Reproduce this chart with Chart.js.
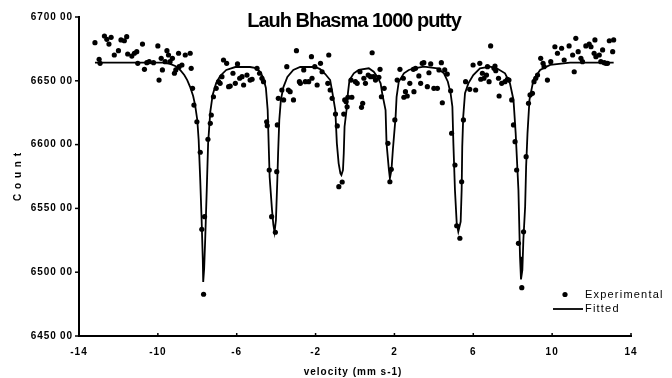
<!DOCTYPE html>
<html>
<head>
<meta charset="utf-8">
<title>Lauh Bhasma 1000 putty</title>
<script src="https://cdn.jsdelivr.net/npm/chart.js@4.4.0/dist/chart.umd.min.js"></script>
<style>
    html, body { margin: 0; padding: 0; background: #fff; }
    #wrap { width: 672px; height: 378px; }
</style>
</head>
<body>
<div id="wrap"><canvas id="spectrum" width="672" height="378"></canvas></div>
<script>
// Labels
const chartTitle = 'Lauh Bhasma 1000 putty';
const xTitle = 'velocity (mm s-1)';
const yTitle = 'C o u n t';
const legendLabels = ['Experimental', 'Fitted'];

// Axis ticks
const xTicks = [-14, -10, -6, -2, 2, 6, 10, 14];
const yTicks = [645000, 650000, 655000, 660000, 665000, 670000];

// Measured spectrum (velocity in mm/s, counts)
const expVel = [
    -13.19, -12.98, -12.93, -12.71, -12.59, -12.48, -12.37, -12.21, -12.00, -11.87,
    -11.70, -11.58, -11.53, -11.32, -11.19, -11.07, -11.02, -10.78, -10.68, -10.56,
    -10.44, -10.22, -10.00, -9.94, -9.83, -9.77, -9.63, -9.54, -9.46, -9.38,
    -9.26, -9.16, -9.09, -8.95, -8.92, -8.78, -8.61, -8.36, -8.31, -8.24,
    -8.17, -8.02, -7.85, -7.77, -7.68, -7.63, -7.46, -7.34, -7.29, -7.18,
    -7.04, -6.92, -6.84, -6.75, -6.67, -6.51, -6.41, -6.33, -6.19, -6.07,
    -5.96, -5.85, -5.73, -5.65, -5.48, -5.32, -5.22, -4.97, -4.84, -4.72,
    -4.64, -4.48, -4.45, -4.35, -4.23, -4.04, -3.97, -3.94, -3.89, -3.71,
    -3.62, -3.46, -3.38, -3.29, -3.12, -2.97, -2.82, -2.77, -2.60, -2.52,
    -2.35, -2.21, -2.18, -2.04, -1.92, -1.75, -1.67, -1.38, -1.33, -1.26,
    -1.16, -0.99, -0.90, -0.82, -0.65, -0.57, -0.52, -0.45, -0.40, -0.36,
    -0.20, -0.16, 0.02, 0.11, 0.25, 0.33, 0.39, 0.45, 0.53, 0.67,
    0.79, 0.87, 0.94, 1.04, 1.21, 1.27, 1.34, 1.48, 1.67, 1.77,
    1.84, 2.02, 2.14, 2.28, 2.45, 2.48, 2.56, 2.65, 2.78, 2.96,
    2.99, 3.07, 3.24, 3.33, 3.41, 3.49, 3.67, 3.75, 3.84, 4.00,
    4.18, 4.26, 4.38, 4.43, 4.55, 4.68, 4.85, 4.90, 5.07, 5.16,
    5.32, 5.41, 5.50, 5.61, 5.82, 5.99, 6.12, 6.33, 6.38, 6.46,
    6.54, 6.67, 6.72, 6.80, 6.88, 7.05, 7.10, 7.14, 7.28, 7.31,
    7.44, 7.61, 7.73, 7.81, 7.95, 8.04, 8.12, 8.20, 8.29, 8.46,
    8.55, 8.68, 8.80, 8.88, 9.00, 9.08, 9.17, 9.26, 9.42, 9.54,
    9.59, 9.76, 9.93, 10.14, 10.27, 10.48, 10.61, 10.86, 11.04, 11.12,
    11.20, 11.32, 11.46, 11.54, 11.71, 11.88, 11.97, 12.13, 12.17, 12.22,
    12.39, 12.47, 12.56, 12.64, 12.73, 12.81, 12.90, 13.07, 13.12
];
const expCount = [
    667990, 666690, 666370, 668510, 668250, 667880, 668410, 667020, 667360, 668200,
    668140, 668460, 667100, 666940, 667160, 667280, 666370, 667880, 665900, 666420,
    666500, 666420, 667730, 665060, 666760, 665850, 666500, 667360, 667020, 666500,
    666760, 665590, 665850, 667160, 666110, 666240, 667020, 667160, 665980, 664410,
    663100, 661790, 659400, 653360, 648270, 654350, 660420, 661670, 662320, 663750,
    664410, 664930, 664800, 665320, 666630, 666370, 664540, 664590, 665590, 664800,
    666320, 665200, 665320, 664670, 665450, 665060, 665120, 665980, 665590, 665200,
    664930, 661790, 661480, 658010, 654350, 653130, 657880, 661540, 663630, 664280,
    663500, 666110, 664280, 664150, 663500, 667360, 664930, 664800, 665850, 664930,
    664930, 666890, 665200, 666110, 664670, 666370, 665710, 664800, 667020, 664280,
    663630, 662390, 661460, 656700, 657070, 662390, 663500, 663360, 662960, 663710,
    665060, 663710, 664930, 664800, 665710, 662920, 663240, 665200, 664800, 665450,
    665320, 667200, 665320, 665060, 665270, 665900, 663750, 664410, 660100, 657090,
    658060, 661930, 665060, 665900, 665200, 663710, 664150, 663810, 664800, 665900,
    664150, 665980, 665380, 664800, 666370, 666420, 664540, 665630, 666320, 664410,
    664410, 665850, 666420, 663280, 665850, 665530, 664220, 660890, 658400, 653640,
    652660, 657090, 661930, 664930, 664330, 666240, 664280, 666370, 665120, 665590,
    665200, 665450, 666110, 664930, 667730, 665980, 666160, 665790, 665200, 663810,
    664800, 664930, 665120, 665060, 663500, 661540, 660230, 658010, 652260, 648790,
    653170, 659050, 663240, 663890, 664020, 664930, 665200, 665450, 666760, 666370,
    666110, 665060, 666500, 667670, 667160, 667550, 666630, 667730, 667020, 665710,
    668330, 667280, 666760, 666500, 667730, 667880, 667670, 667160, 668200, 666890,
    667020, 666500, 667420, 666420, 666370, 666370, 668140, 667280, 668200
];

// Fitted sextet
const fitVel = [
    -13.19, -9.75, -9.38, -9.12, -8.87, -8.66, -8.51, -8.36, -8.21, -8.11,
    -8.00, -7.93, -7.85, -7.78, -7.72, -7.70, -7.65, -7.60, -7.52, -7.45,
    -7.34, -7.22, -7.04, -6.84, -6.53, -6.07, -5.32, -5.01, -4.80, -4.65,
    -4.52, -4.43, -4.33, -4.21, -4.14, -4.08, -4.01, -3.94, -3.90, -3.84,
    -3.76, -3.63, -3.43, -3.13, -2.78, -2.02, -1.77, -1.51, -1.26, -1.14,
    -1.00, -0.92, -0.83, -0.74, -0.69, -0.61, -0.57, -0.53, -0.43, -0.36,
    -0.28, -0.06, 0.19, 0.70, 0.95, 1.13, 1.30, 1.38, 1.55, 1.60,
    1.72, 1.77, 1.85, 1.92, 2.06, 2.11, 2.22, 2.48, 2.73, 2.99,
    3.50, 4.18, 4.51, 4.71, 4.85, 4.94, 4.99, 5.07, 5.16, 5.24,
    5.36, 5.41, 5.44, 5.49, 5.58, 5.75, 6.00, 6.34, 6.85, 7.19,
    7.61, 7.86, 8.04, 8.15, 8.29, 8.37, 8.42, 8.49, 8.54, 8.63,
    8.68, 8.75, 8.85, 9.05, 9.39, 9.90, 10.91, 13.12
];
const fitCount = [
    666420, 666420, 666320, 666160, 665850, 665450, 665060, 664510, 663810, 663100,
    661930, 660360, 657230, 654090, 650960, 649230, 650330, 652520, 656440, 660130,
    662560, 663890, 664830, 665380, 665850, 666080, 666080, 666000, 665690, 665220,
    664440, 662710, 657460, 654880, 653700, 653150, 654090, 657230, 659340, 661930,
    663500, 664510, 665300, 665850, 666080, 666080, 665920, 665530, 665060, 664020,
    662710, 660100, 658530, 657750, 657620, 658010, 659320, 661400, 662710, 664020,
    665060, 665590, 665850, 665980, 665710, 665320, 664800, 664020, 662710, 660100,
    658010, 657360, 658010, 659580, 662190, 663750, 664930, 665590, 665850, 665980,
    666110, 665980, 665590, 664930, 664020, 662970, 660100, 656440, 653830, 653170,
    653960, 656440, 659840, 662190, 664020, 664800, 665450, 665980, 666110, 665980,
    665590, 664800, 663500, 660890, 656440, 651220, 649440, 650170, 652520, 655130,
    658270, 660890, 663500, 665060, 665850, 666240, 666420, 666420
];

const FONT = '"Liberation Sans", Arial, sans-serif';
const INK = '#000';
const DOT = 2.6;

const toPoints = (xs, ys) => xs.map((x, i) => ({ x: x, y: ys[i] }));

// Count labels are printed as e.g. "6700 00"
function formatCount(value) {
    const s = String(value);
    return s.slice(0, 4) + '\u2009' + s.slice(4);
}

// Titles, tick marks and the legend are drawn by hand
const decorations = {
    id: 'decorations',
    beforeDraw(chart) {
        chart.ctx.letterSpacing = '1px';
    },
    afterDraw(chart) {
        const { ctx, chartArea, scales } = chart;
        ctx.save();
        ctx.fillStyle = INK;
        ctx.strokeStyle = INK;

        // tick marks: x inward, y outward
        ctx.lineWidth = 1.5;
        xTicks.forEach(v => {
            const x = scales.x.getPixelForValue(v);
            ctx.beginPath();
            ctx.moveTo(x, chartArea.bottom);
            ctx.lineTo(x, chartArea.bottom - 3);
            ctx.stroke();
        });
        yTicks.forEach(v => {
            const y = scales.y.getPixelForValue(v);
            ctx.beginPath();
            ctx.moveTo(chartArea.left, y);
            ctx.lineTo(chartArea.left - 4, y);
            ctx.stroke();
        });

        // chart title
        ctx.letterSpacing = '-1px';
        ctx.font = 'bold 20px ' + FONT;
        ctx.textAlign = 'center';
        ctx.textBaseline = 'alphabetic';
        ctx.fillText(chartTitle, 354, 26.5);

        // axis titles
        ctx.letterSpacing = '1px';
        ctx.font = 'bold 10px ' + FONT;
        ctx.textBaseline = 'middle';
        ctx.fillText(xTitle, 353, 372.5);
        ctx.save();
        ctx.translate(18, (chartArea.top + chartArea.bottom) / 2);
        ctx.rotate(-Math.PI / 2);
        ctx.fillText(yTitle, 0, 0);
        ctx.restore();

        // legend
        ctx.font = '11px ' + FONT;
        ctx.letterSpacing = '1.2px';
        ctx.textAlign = 'left';
        ctx.beginPath();
        ctx.arc(565, 294.5, DOT, 0, Math.PI * 2);
        ctx.fill();
        ctx.fillText(legendLabels[0], 585, 295);
        ctx.lineWidth = 1.8;
        ctx.beginPath();
        ctx.moveTo(553, 309);
        ctx.lineTo(583, 309);
        ctx.stroke();
        ctx.fillText(legendLabels[1], 585, 309);

        ctx.restore();
    }
};

const tickFont = { family: FONT, size: 10, weight: 'bold' };

new Chart(document.getElementById('spectrum').getContext('2d'), {
    type: 'scatter',
    data: {
        datasets: [{
            label: legendLabels[0],
            data: toPoints(expVel, expCount),
            pointRadius: DOT,
            pointHoverRadius: DOT,
            pointBackgroundColor: INK,
            pointBorderWidth: 0
        }, {
            label: legendLabels[1],
            data: toPoints(fitVel, fitCount),
            showLine: true,
            borderColor: INK,
            borderWidth: 1.8,
            pointRadius: 0,
            tension: 0
        }]
    },
    options: {
        responsive: false,
        animation: false,
        events: [],
        layout: { padding: { top: 17, right: 41, left: 0, bottom: 0 } },
        plugins: {
            legend: { display: false },
            tooltip: { enabled: false }
        },
        scales: {
            x: {
                type: 'linear',
                min: xTicks[0],
                max: xTicks[xTicks.length - 1],
                afterBuildTicks: scale => { scale.ticks = xTicks.map(v => ({ value: v })); },
                afterFit: scale => { scale.height = 42; },
                grid: { display: false, drawTicks: false },
                border: { display: true, color: INK, width: 2 },
                ticks: { font: tickFont, color: INK, padding: 10, maxRotation: 0 }
            },
            y: {
                type: 'linear',
                min: yTicks[0],
                max: yTicks[yTicks.length - 1],
                afterBuildTicks: scale => { scale.ticks = yTicks.map(v => ({ value: v })); },
                afterFit: scale => { scale.width = 79; },
                grid: { display: false, drawTicks: false },
                border: { display: true, color: INK, width: 2 },
                ticks: { font: tickFont, color: INK, padding: 6, callback: formatCount }
            }
        }
    },
    plugins: [decorations]
});
</script>
</body>
</html>
